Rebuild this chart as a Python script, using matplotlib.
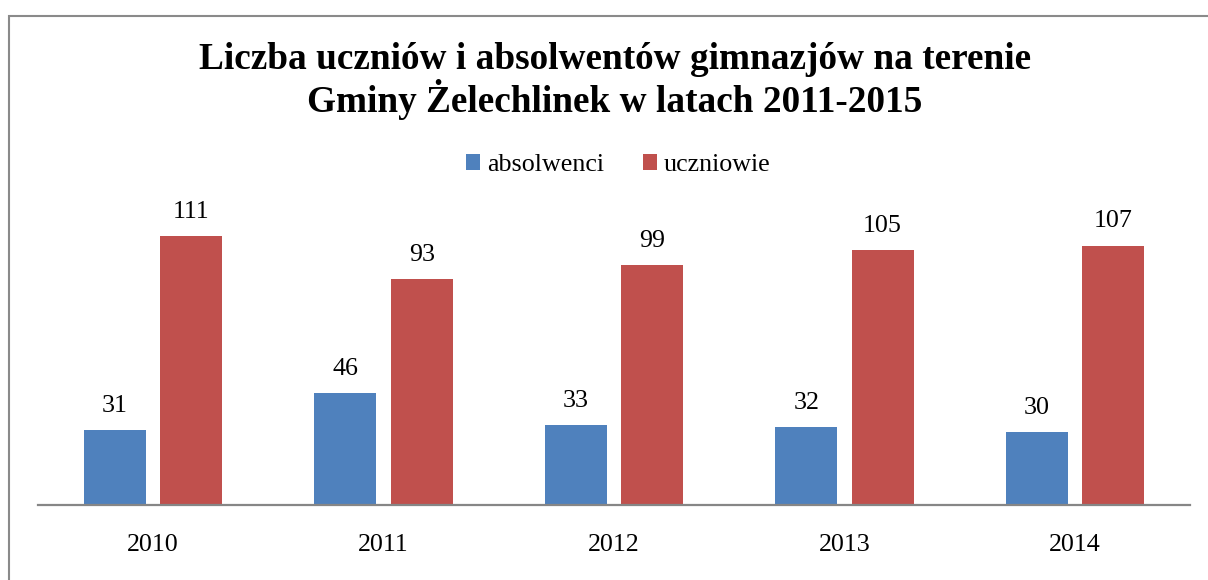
import numpy as np
import matplotlib.pyplot as plt
from matplotlib.patches import Rectangle

lata = ['2010', '2011', '2012', '2013', '2014']
absolwenci = [31, 46, 33, 32, 30]
uczniowie = [111, 93, 99, 105, 107]

plt.rcParams['font.family'] = ['Liberation Serif', 'DejaVu Serif']

fig = plt.figure(figsize=(12.08, 5.8), dpi=100)
W, H = 1208, 580

# ramka wykresu (jak w Excelu)
fig.patches.append(Rectangle((8.5 / W, -0.1), 1.2, (H - 15.5) / H + 0.1,
                             transform=fig.transFigure, fill=False,
                             edgecolor='#8a8a8a', linewidth=1.5))

ax = fig.add_axes([38 / W, (H - 505) / H, (1190 - 38) / W, (505 - 214) / H])

x = np.arange(len(lata))
szer = 0.269
b1 = ax.bar(x - 0.166, absolwenci, szer, color='#4F81BD', label='absolwenci')
b2 = ax.bar(x + 0.166, uczniowie, szer, color='#C0504D', label='uczniowie')

for bars, vals in ((b1, absolwenci), (b2, uczniowie)):
    for b, v in zip(bars, vals):
        ax.annotate(str(v), (b.get_x() + b.get_width() / 2, v),
                    xytext=(0, 17.5), textcoords='offset points',
                    ha='center', va='center', fontsize=18.7)

ax.set_xlim(-0.5, len(lata) - 0.5)
ax.set_ylim(0, 120)
ax.set_xticks(x)
ax.set_xticklabels(lata, fontsize=18.7)
ax.tick_params(axis='x', length=0, pad=21)
ax.set_yticks([])
for s in ['top', 'right', 'left']:
    ax.spines[s].set_visible(False)
ax.spines['bottom'].set_color('#868686')
ax.spines['bottom'].set_linewidth(1.6)

fig.text(615 / W, 1 - 81 / H,
         'Liczba uczniów i absolwentów gimnazjów na terenie\nGminy Żelechlinek w latach 2011-2015',
         ha='center', va='center', fontsize=26.8, fontweight='bold', linespacing=1.08)

fig.legend(handles=[b1, b2], loc='center', bbox_to_anchor=(618 / W, 1 - 165 / H),
           ncol=2, frameon=False, fontsize=18.7, handlelength=0.55, handleheight=0.55,
           handletextpad=0.25, columnspacing=1.5)

fig.savefig('out.png', dpi=100)
